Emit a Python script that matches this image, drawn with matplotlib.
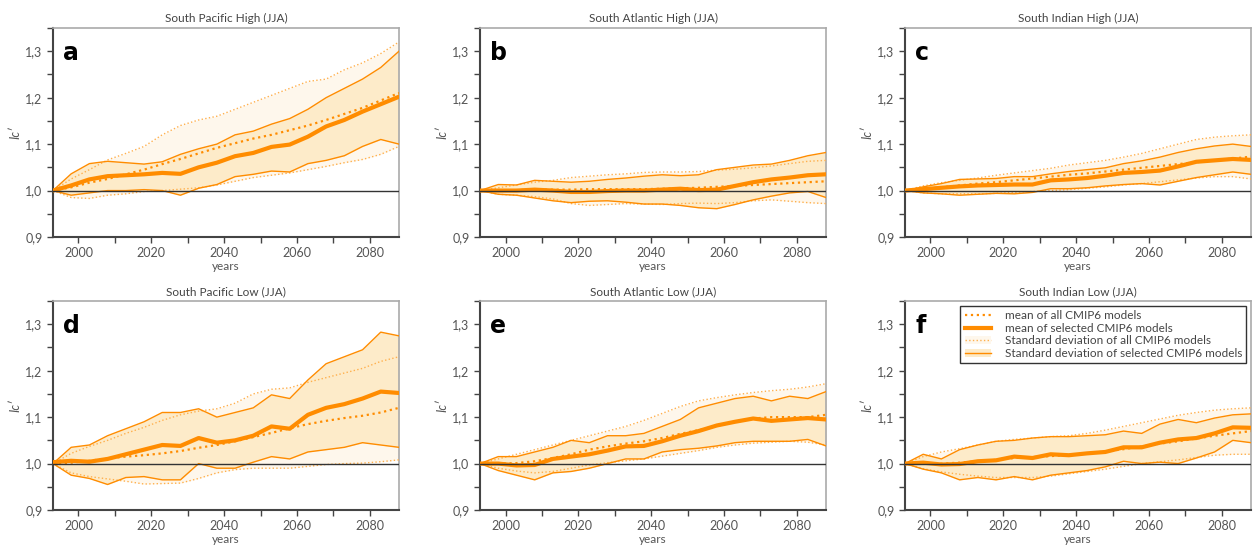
import matplotlib
matplotlib.use('Agg')
import matplotlib.pyplot as plt
from matplotlib.lines import Line2D
from matplotlib.patches import Patch
from matplotlib.ticker import MultipleLocator, FuncFormatter
import numpy as np

plt.rcParams['font.family'] = ['Lato', 'DejaVu Sans']

years = np.arange(1993, 2089, 5)

titles = ['South Pacific High (JJA)', 'South Atlantic High (JJA)', 'South Indian High (JJA)',
          'South Pacific Low (JJA)', 'South Atlantic Low (JJA)', 'South Indian Low (JJA)']
letters = ['a', 'b', 'c', 'd', 'e', 'f']

# mean of selected CMIP6 models
sel_mean = [
    [1.0, 1.011, 1.024, 1.031, 1.033, 1.035, 1.038, 1.036, 1.05, 1.06, 1.074, 1.081, 1.094, 1.099, 1.116, 1.138, 1.152, 1.17, 1.186, 1.202],
    [1.0, 1.0, 1.0, 1.002, 1.0, 0.997, 0.997, 0.999, 1.0, 1.0, 1.002, 1.004, 1.001, 1.002, 1.01, 1.018, 1.024, 1.028, 1.033, 1.035],
    [1.0, 1.003, 1.006, 1.009, 1.011, 1.012, 1.013, 1.013, 1.022, 1.024, 1.027, 1.032, 1.038, 1.04, 1.043, 1.052, 1.062, 1.065, 1.068, 1.066],
    [1.003, 1.006, 1.004, 1.01, 1.02, 1.03, 1.04, 1.038, 1.055, 1.045, 1.05, 1.06, 1.08, 1.075, 1.105, 1.12, 1.128, 1.14, 1.155, 1.152],
    [1.0, 1.0, 0.996, 0.997, 1.01, 1.015, 1.02, 1.028, 1.037, 1.038, 1.048, 1.06, 1.07, 1.082, 1.09, 1.097, 1.092, 1.095, 1.098, 1.095],
    [1.0, 1.002, 0.998, 0.999, 1.005, 1.007, 1.015, 1.012, 1.02, 1.018, 1.022, 1.025, 1.035, 1.035, 1.045, 1.052, 1.055, 1.065, 1.078, 1.077],
]
# mean of all CMIP6 models
all_mean = [
    [1.0, 1.007, 1.017, 1.025, 1.035, 1.045, 1.057, 1.068, 1.08, 1.092, 1.102, 1.112, 1.12, 1.13, 1.14, 1.152, 1.165, 1.178, 1.194, 1.21],
    [1.0, 1.0, 1.001, 1.002, 1.002, 1.002, 1.003, 1.003, 1.003, 1.003, 1.004, 1.005, 1.006, 1.008, 1.01, 1.012, 1.014, 1.016, 1.018, 1.02],
    [1.0, 1.003, 1.007, 1.011, 1.015, 1.018, 1.022, 1.026, 1.03, 1.034, 1.037, 1.041, 1.045, 1.049, 1.053, 1.057, 1.061, 1.065, 1.069, 1.073],
    [1.0, 1.002, 1.006, 1.011, 1.015, 1.018, 1.022, 1.027, 1.034, 1.04, 1.048, 1.057, 1.066, 1.076, 1.085, 1.092, 1.098, 1.103, 1.11, 1.12],
    [1.0, 1.0, 1.001, 1.005, 1.012, 1.02, 1.03, 1.037, 1.043, 1.048, 1.055, 1.064, 1.072, 1.081, 1.09, 1.097, 1.1, 1.1, 1.1, 1.105],
    [1.0, 1.0, 1.0, 1.002, 1.005, 1.008, 1.012, 1.014, 1.016, 1.019, 1.022, 1.026, 1.031, 1.037, 1.043, 1.048, 1.054, 1.06, 1.065, 1.07],
]
# mean +/- std, all models
all_hi = [
    [1.0, 1.025, 1.045, 1.066, 1.08, 1.095, 1.12, 1.14, 1.152, 1.16, 1.175, 1.19, 1.205, 1.22, 1.235, 1.24, 1.26, 1.275, 1.295, 1.32],
    [1.0, 1.006, 1.012, 1.018, 1.022, 1.028, 1.031, 1.034, 1.036, 1.039, 1.04, 1.04, 1.041, 1.044, 1.046, 1.049, 1.053, 1.058, 1.063, 1.065],
    [1.0, 1.01, 1.017, 1.022, 1.027, 1.033, 1.038, 1.043, 1.048, 1.055, 1.06, 1.065, 1.072, 1.08, 1.09, 1.1, 1.11, 1.115, 1.118, 1.12],
    [1.0, 1.022, 1.037, 1.05, 1.065, 1.078, 1.093, 1.105, 1.113, 1.118, 1.13, 1.15, 1.16, 1.163, 1.175, 1.185, 1.195, 1.205, 1.22, 1.23],
    [1.0, 1.01, 1.02, 1.03, 1.04, 1.05, 1.06, 1.07, 1.08, 1.093, 1.108, 1.123, 1.135, 1.142, 1.148, 1.153, 1.157, 1.16, 1.165, 1.172],
    [1.0, 1.015, 1.025, 1.032, 1.04, 1.048, 1.052, 1.055, 1.058, 1.06, 1.065, 1.072, 1.08, 1.088, 1.096, 1.104, 1.11, 1.115, 1.118, 1.12],
]
all_lo = [
    [1.0, 0.985, 0.983, 0.99, 0.993, 0.998, 1.0, 1.003, 1.006, 1.012, 1.02, 1.028, 1.033, 1.038, 1.045, 1.052, 1.06, 1.067, 1.078, 1.095],
    [1.0, 0.992, 0.99, 0.987, 0.982, 0.972, 0.968, 0.97, 0.972, 0.971, 0.97, 0.972, 0.973, 0.972, 0.974, 0.978, 0.98, 0.977, 0.974, 0.972],
    [1.0, 0.995, 0.993, 0.993, 0.993, 0.994, 0.996, 0.998, 1.0, 1.002, 1.005, 1.008, 1.012, 1.015, 1.019, 1.023, 1.027, 1.03, 1.03, 1.025],
    [1.0, 0.98, 0.972, 0.967, 0.962, 0.956, 0.957, 0.958, 0.968, 0.98, 0.987, 0.99, 0.99, 0.99, 0.994, 0.998, 1.0, 1.001, 1.004, 1.008],
    [1.0, 0.99, 0.984, 0.98, 0.983, 0.99, 0.997, 1.002, 1.006, 1.01, 1.016, 1.022, 1.028, 1.035, 1.04, 1.044, 1.046, 1.048, 1.046, 1.04],
    [1.0, 0.989, 0.982, 0.977, 0.973, 0.97, 0.97, 0.97, 0.973, 0.978, 0.983, 0.988, 0.994, 1.0, 1.004, 1.008, 1.013, 1.018, 1.02, 1.02],
]
# mean +/- std, selected models
sel_hi = [
    [1.0, 1.036, 1.058, 1.063, 1.06, 1.057, 1.062, 1.078, 1.09, 1.1, 1.12, 1.128, 1.143, 1.155, 1.175, 1.2, 1.22, 1.24, 1.265, 1.3],
    [1.0, 1.013, 1.012, 1.022, 1.02, 1.018, 1.02, 1.024, 1.027, 1.031, 1.034, 1.032, 1.034, 1.045, 1.05, 1.055, 1.057, 1.065, 1.075, 1.082],
    [1.0, 1.008, 1.015, 1.024, 1.025, 1.026, 1.03, 1.03, 1.036, 1.041, 1.045, 1.049, 1.058, 1.064, 1.072, 1.082, 1.09, 1.096, 1.1, 1.095],
    [1.0, 1.035, 1.04, 1.06, 1.075, 1.09, 1.11, 1.11, 1.118, 1.1, 1.11, 1.12, 1.148, 1.14, 1.18, 1.215, 1.23, 1.245, 1.283, 1.275],
    [1.0, 1.015, 1.015, 1.025, 1.035, 1.05, 1.045, 1.06, 1.06, 1.065, 1.08, 1.095, 1.12, 1.13, 1.14, 1.145, 1.135, 1.145, 1.14, 1.155],
    [1.0, 1.02, 1.01, 1.03, 1.04, 1.048, 1.05, 1.055, 1.058, 1.058, 1.06, 1.062, 1.07, 1.065, 1.085, 1.095, 1.088, 1.098, 1.105, 1.107],
]
sel_lo = [
    [1.0, 0.99, 0.995, 1.0, 1.0, 1.002, 1.0, 0.99, 1.005, 1.013, 1.03, 1.035, 1.042, 1.04, 1.058, 1.065, 1.075, 1.095, 1.11, 1.1],
    [1.0, 0.992, 0.99, 0.984, 0.978, 0.974, 0.977, 0.978, 0.975, 0.971, 0.971, 0.968, 0.963, 0.961, 0.97, 0.98, 0.988, 0.995, 0.998, 0.985],
    [1.0, 0.995, 0.993, 0.99, 0.992, 0.994, 0.993, 0.996, 1.004, 1.004, 1.006, 1.01, 1.013, 1.015, 1.012, 1.02, 1.028, 1.034, 1.04, 1.035],
    [1.0, 0.975, 0.968, 0.955, 0.97, 0.972, 0.965, 0.965, 1.0, 0.99, 0.99, 1.003, 1.015, 1.01, 1.025, 1.03, 1.035, 1.045, 1.04, 1.035],
    [1.0, 0.985, 0.975, 0.965, 0.98, 0.983, 0.99, 1.0, 1.01, 1.01, 1.025, 1.03, 1.033, 1.038, 1.045, 1.048, 1.048, 1.048, 1.052, 1.038],
    [1.0, 0.988, 0.98, 0.965, 0.97, 0.965, 0.972, 0.965, 0.975, 0.98, 0.985, 0.993, 1.005, 1.0, 1.003, 1.0, 1.012, 1.025, 1.05, 1.045],
]

ORANGE = '#ff8c00'
LIGHT = '#ffb04d'
FILL_SEL = '#fdebc9'
FILL_ALL = '#fef7ec'

fig = plt.figure(figsize=(12.55, 5.48), dpi=100)

lefts = [0.0422, 0.3825, 0.7211]
bottoms = [0.5675, 0.0693]
w, h = 0.2757, 0.3814

comma = FuncFormatter(lambda v, p: ('%.1f' % v).replace('.', ','))

for i in range(6):
    ax = fig.add_axes([lefts[i % 3], bottoms[i // 3], w, h])
    ax.fill_between(years, all_lo[i], all_hi[i], color=FILL_ALL, lw=0, zorder=1)
    ax.fill_between(years, sel_lo[i], sel_hi[i], color=FILL_SEL, lw=0, zorder=2)
    ax.plot(years, all_hi[i], ls=':', lw=1, color=LIGHT, zorder=3)
    ax.plot(years, all_lo[i], ls=':', lw=1, color=LIGHT, zorder=3)
    ax.plot(years, sel_hi[i], ls='-', lw=1, color=ORANGE, zorder=4)
    ax.plot(years, sel_lo[i], ls='-', lw=1, color=ORANGE, zorder=4)
    ax.plot(years, all_mean[i], ls=':', lw=1.6, color=ORANGE, zorder=5)
    ax.plot(years, sel_mean[i], ls='-', lw=3, color=ORANGE, zorder=6)
    ax.axhline(1.0, color='#333333', lw=1, zorder=7)

    ax.set_xlim(1993, 2088)
    ax.set_ylim(0.9, 1.35)
    ax.xaxis.set_major_locator(MultipleLocator(20))
    ax.xaxis.set_minor_locator(MultipleLocator(10))
    ax.yaxis.set_major_locator(MultipleLocator(0.1))
    ax.yaxis.set_minor_locator(MultipleLocator(0.05))
    ax.yaxis.set_major_formatter(comma)
    ax.tick_params(which='both', direction='out', length=4, width=1, colors='#444444',
                   labelsize=9, labelcolor='#555555')
    for s in ['left', 'bottom']:
        ax.spines[s].set_color('#444444')
        ax.spines[s].set_linewidth(1.5)
    for s in ['top', 'right']:
        ax.spines[s].set_color('#aaaaaa')
        ax.spines[s].set_linewidth(1.2)

    ax.set_title(titles[i], fontsize=8.5, color='#444444', pad=4)
    ax.set_xlabel('years', fontsize=8.5, color='#555555', labelpad=1)
    ax.set_ylabel('Ic′', fontsize=9, color='#555555', style='italic', labelpad=3)
    ax.text(0.03, 0.94, letters[i], transform=ax.transAxes, fontsize=17,
            fontweight='bold', family='DejaVu Sans', va='top', ha='left', color='black')

    if i == 5:
        handles = [
            Line2D([], [], ls=':', lw=1.6, color=ORANGE),
            Line2D([], [], ls='-', lw=3, color=ORANGE),
            (Patch(facecolor=FILL_ALL, lw=0), Line2D([], [], ls=':', lw=1, color=LIGHT)),
            (Patch(facecolor=FILL_SEL, lw=0), Line2D([], [], ls='-', lw=1, color=ORANGE)),
        ]
        labels = ['mean of all CMIP6 models', 'mean of selected CMIP6 models',
                  'Standard deviation of all CMIP6 models',
                  'Standard deviation of selected CMIP6 models']
        leg = ax.legend(handles, labels, loc='upper right', fontsize=8.5, frameon=True,
                        fancybox=False, labelspacing=0.15, handlelength=2.2,
                        borderpad=0.35, borderaxespad=0.4, handletextpad=1.2,
                        labelcolor='#444444')
        leg.get_frame().set_edgecolor('black')
        leg.get_frame().set_linewidth(1)

fig.savefig('out.png', dpi=100)
